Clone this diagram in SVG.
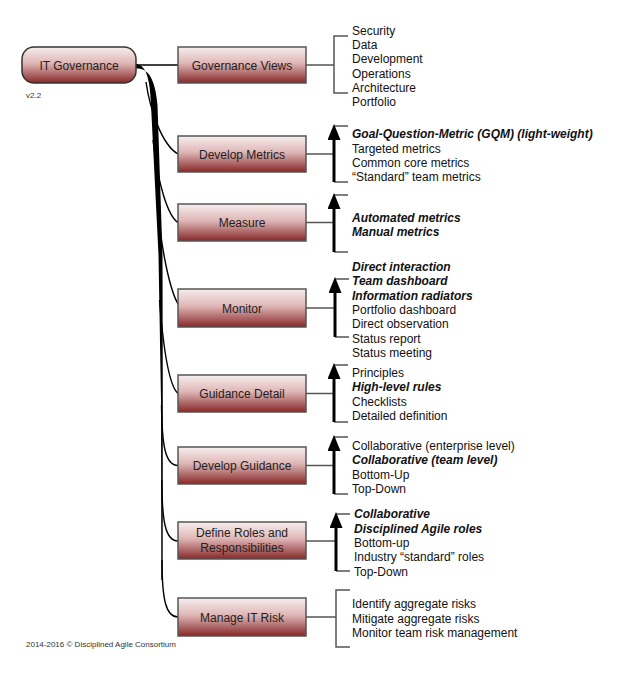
<svg xmlns="http://www.w3.org/2000/svg" width="619" height="675" viewBox="0 0 619 675">
<defs>
<linearGradient id="g" x1="0" y1="0" x2="0" y2="1">
<stop offset="0" stop-color="#f7eeee"/>
<stop offset="0.45" stop-color="#dfb6b6"/>
<stop offset="1" stop-color="#872828"/>
</linearGradient>
<marker id="ah" viewBox="0 0 16 13" refX="0" refY="6.5" markerWidth="16" markerHeight="13" markerUnits="userSpaceOnUse" orient="auto">
<path d="M16,6.5 L0,0 L0,13 Z" fill="#000"/>
</marker>
<style>
.box{fill:url(#g);stroke:#555;stroke-width:1.5}
.root{fill:url(#g);stroke:#333;stroke-width:1.5}
.lbl{font-family:"Liberation Sans",Arial,sans-serif;font-size:12px;fill:#222;text-anchor:middle}
.it{font-family:"Liberation Sans",Arial,sans-serif;font-size:12px;fill:#111}
.b{font-weight:bold;font-style:italic}
.sm{font-family:"Liberation Sans",Arial,sans-serif;font-size:8px;fill:#333}
.br{fill:none;stroke:#555;stroke-width:1.5}
.ar{fill:none;stroke:#000;stroke-width:3}
.cv{fill:none;stroke:#000;stroke-width:1.4}
</style>
</defs>
<rect width="619" height="675" fill="#fff"/>

<g id="connectors">
<path class="cv" d="M136,65 L178,65"/>
<path fill="#000" d="M136,64 C146,65 150,78 151,105 L158.5,255 L161,400 L161.3,580 L162.7,580 L162.8,400 L162.5,255 L157.5,105 C155,78 148,68 136,68.5 Z"/>
<path class="cv" d="M146,82 C150,110 162,145 178,154"/>
<path class="cv" d="M153,140 C158,185 168,216 178,222.5"/>
<path class="cv" d="M157,200 C161,250 170,290 178,304"/>
<path class="cv" d="M159.5,300 C163,345 168,385 178,393.5"/>
<path class="cv" d="M161.5,405 C162,445 165,465.5 178,465.5"/>
<path class="cv" d="M161.8,480 C162,520 165,541 178,541"/>
<path class="cv" d="M162,560 C162,600 166,617 178,617"/>
<path class="br" d="M306,65 H334"/>
<path class="br" d="M348,36 H334 V93 H348"/>
<path class="br" d="M306,154 H334"/>
<path class="br" d="M348,126 H334 M334,182 H348"/>
<path class="ar" d="M334,182 V140" marker-end="url(#ah)"/>
<path class="br" d="M306,222.5 H334"/>
<path class="br" d="M348,195 H334 M334,252 H348"/>
<path class="ar" d="M334,252 V209" marker-end="url(#ah)"/>
<path class="br" d="M306,308 H335"/>
<path class="br" d="M349,279 H335 M335,337 H349"/>
<path class="ar" d="M335,337 V293" marker-end="url(#ah)"/>
<path class="br" d="M306,393.5 H334"/>
<path class="br" d="M348,365 H334 M334,422 H348"/>
<path class="ar" d="M334,422 V379" marker-end="url(#ah)"/>
<path class="br" d="M306,465.5 H334"/>
<path class="br" d="M348,437 H334 M334,494 H348"/>
<path class="ar" d="M334,494 V451" marker-end="url(#ah)"/>
<path class="br" d="M306,541 H336"/>
<path class="br" d="M350,514 H336 M336,571 H350"/>
<path class="ar" d="M336,571 V528" marker-end="url(#ah)"/>
<path class="br" d="M306,617 H336"/>
<path class="br" d="M350,590 H336 V647 H350"/>
</g>

<g id="root">
<rect class="root" x="22" y="47" width="114" height="36" rx="12"/>
<text class="lbl" x="79" y="70">IT Governance</text>
</g>
<text class="sm" x="26" y="98">v2.2</text>

<g id="governance-views">
<rect class="box" x="178" y="47" width="128" height="36"/>
<text class="lbl" x="242" y="69.5">Governance Views</text>
<text class="it" x="352" y="35">Security</text>
<text class="it" x="352" y="49">Data</text>
<text class="it" x="352" y="63">Development</text>
<text class="it" x="352" y="77.5">Operations</text>
<text class="it" x="352" y="91.5">Architecture</text>
<text class="it" x="352" y="106">Portfolio</text>
</g>

<g id="develop-metrics">
<rect class="box" x="178" y="136" width="128" height="36"/>
<text class="lbl" x="242" y="158.5">Develop Metrics</text>
<text class="it b" x="352" y="138">Goal-Question-Metric (GQM) (light-weight)</text>
<text class="it" x="352" y="152.5">Targeted metrics</text>
<text class="it" x="352" y="166.5">Common core metrics</text>
<text class="it" x="352" y="181">“Standard” team metrics</text>
</g>

<g id="measure">
<rect class="box" x="178" y="204" width="128" height="37"/>
<text class="lbl" x="242" y="227">Measure</text>
<text class="it b" x="352" y="222">Automated metrics</text>
<text class="it b" x="352" y="236">Manual metrics</text>
</g>

<g id="monitor">
<rect class="box" x="178" y="289" width="128" height="38"/>
<text class="lbl" x="242" y="312.5">Monitor</text>
<text class="it b" x="352" y="271">Direct interaction</text>
<text class="it b" x="352" y="285">Team dashboard</text>
<text class="it b" x="352" y="299.5">Information radiators</text>
<text class="it" x="352" y="313.5">Portfolio dashboard</text>
<text class="it" x="352" y="328">Direct observation</text>
<text class="it" x="352" y="342.5">Status report</text>
<text class="it" x="352" y="356.5">Status meeting</text>
</g>

<g id="guidance-detail">
<rect class="box" x="178" y="375" width="128" height="37"/>
<text class="lbl" x="242" y="398">Guidance Detail</text>
<text class="it" x="352" y="377">Principles</text>
<text class="it b" x="352" y="391">High-level rules</text>
<text class="it" x="352" y="405.5">Checklists</text>
<text class="it" x="352" y="420">Detailed definition</text>
</g>

<g id="develop-guidance">
<rect class="box" x="178" y="447" width="128" height="37"/>
<text class="lbl" x="242" y="470">Develop Guidance</text>
<text class="it" x="352" y="450">Collaborative (enterprise level)</text>
<text class="it b" x="352" y="464">Collaborative (team level)</text>
<text class="it" x="352" y="478.5">Bottom-Up</text>
<text class="it" x="352" y="492.5">Top-Down</text>
</g>

<g id="define-roles">
<rect class="box" x="178" y="522" width="128" height="37"/>
<text class="lbl" x="242" y="537">Define Roles and</text>
<text class="lbl" x="242" y="551.5">Responsibilities</text>
<text class="it b" x="354" y="518">Collaborative</text>
<text class="it b" x="354" y="532.5">Disciplined Agile roles</text>
<text class="it" x="354" y="547">Bottom-up</text>
<text class="it" x="354" y="561">Industry “standard” roles</text>
<text class="it" x="354" y="576">Top-Down</text>
</g>

<g id="manage-risk">
<rect class="box" x="178" y="598" width="128" height="38"/>
<text class="lbl" x="242" y="621.5">Manage IT Risk</text>
<text class="it" x="352" y="608">Identify aggregate risks</text>
<text class="it" x="352" y="622.5">Mitigate aggregate risks</text>
<text class="it" x="352" y="637">Monitor team risk management</text>
</g>

<text class="sm" x="26" y="647">2014-2016 © Disciplined Agile Consortium</text>
</svg>
